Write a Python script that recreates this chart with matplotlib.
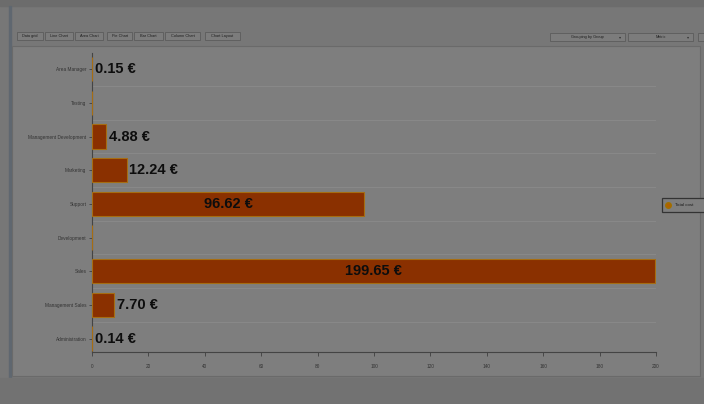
import matplotlib.pyplot as plt
from matplotlib.patches import Rectangle

categories = ['Administration', 'Management Sales', 'Sales', 'Development', 'Support',
              'Marketing', 'Management Development', 'Testing', 'Area Manager']
costs = [0.14, 7.70, 199.65, 0.0, 96.62, 12.24, 4.88, 0.0, 0.15]
cost_labels = ['0.14 €', '7.70 €', '199.65 €', '', '96.62 €', '12.24 €', '4.88 €', '', '0.15 €']
xticks = [0, 20, 40, 60, 80, 100, 120, 140, 160, 180, 200]
tabs = ['Data grid', 'Line Chart', 'Area Chart', 'Pie Chart', 'Bar Chart', 'Column Chart', 'Chart Layout']
dropdowns = ['Grouping by Group', 'Metric']

plt.rcParams['font.family'] = ['Liberation Sans', 'DejaVu Sans']

W, H = 704, 404
fig = plt.figure(figsize=(W / 100, H / 100), dpi=100)
fig.patch.set_facecolor('#777777')

def px(x, y, w, h):
    # pixel box (top-left origin) -> figure fraction
    return (x / W, 1 - (y + h) / H, w / W, h / H)

# window frame + panel
bg = fig.add_axes([0, 0, 1, 1])
bg.set_xlim(0, W)
bg.set_ylim(H, 0)
bg.axis('off')
bg.add_patch(Rectangle((0, 0), W, 6, color='#6c6c6c'))
bg.add_patch(Rectangle((9, 6), 2, 372, color='#5f6770'))
bg.add_patch(Rectangle((12, 46), 688, 330, facecolor='#7e7e7e', edgecolor='#6a6a6a', lw=0.8))
bg.add_patch(Rectangle((0, 378), W, 26, color='#727272'))

tab_x = [17, 45, 75, 107, 134, 165, 205]
tab_w = [26, 28, 28, 25, 29, 35, 35]
for t, x, w in zip(tabs, tab_x, tab_w):
    bg.add_patch(Rectangle((x, 32), w, 8, facecolor='#7c7c7c', edgecolor='#5c5c5c', lw=0.6))
    bg.text(x + w / 2, 36, t, fontsize=2.8, ha='center', va='center', color='#1e1e1e')

for t, x, w in zip(dropdowns, [550, 628], [75, 65]):
    bg.add_patch(Rectangle((x, 33), w, 8, facecolor='#7c7c7c', edgecolor='#5c5c5c', lw=0.6))
    bg.text(x + w / 2, 37, t, fontsize=2.8, ha='center', va='center', color='#1e1e1e')
    bg.text(x + w - 5, 37, '▾', fontsize=3, ha='center', va='center', color='#333333')
bg.add_patch(Rectangle((698, 33), 10, 8, facecolor='#7c7c7c', edgecolor='#5c5c5c', lw=0.6))

# legend box
bg.add_patch(Rectangle((662, 198), 44, 14, facecolor='#7e7e7e', edgecolor='#333333', lw=0.9))
bg.plot([668], [205], 'o', ms=4, color='#b06000', mec='#a07000')
bg.text(675, 205, 'Total cost', fontsize=3.2, va='center', color='#1a1a1a')

# bar chart
ax = fig.add_axes(px(92, 53, 564, 299))
ax.set_facecolor('none')
y = list(range(len(categories)))
ax.barh(y, costs, height=0.72, color='#8a3000', edgecolor='#a66d12', linewidth=0.8, zorder=3)
for i, (v, lab) in enumerate(zip(costs, cost_labels)):
    if not lab:
        continue
    if v > 50:
        ax.text(v / 2, i, lab, ha='center', va='center', fontsize=10.5,
                fontweight='bold', color='#0d0d0d', zorder=4)
    else:
        ax.text(v + 1, i, lab, ha='left', va='center', fontsize=10.5,
                fontweight='bold', color='#0d0d0d', zorder=4)
for i in range(len(categories) - 1):
    ax.axhline(i + 0.5, color='#8a8a8a', lw=0.6, zorder=1)
ax.set_xlim(0, 200)
ax.set_ylim(-0.4, 8.48)
ax.set_yticks(y)
ax.set_yticklabels(categories, fontsize=3.4, color='#151515')
ax.set_xticks(xticks)
ax.set_xticklabels([str(t) for t in xticks], fontsize=3.4, color='#151515')
ax.tick_params(axis='y', length=2, width=0.5, colors='#333333', pad=2)
ax.tick_params(axis='x', length=3, width=0.5, colors='#333333', pad=6)
for s in ['top', 'right']:
    ax.spines[s].set_visible(False)
for s in ['left', 'bottom']:
    ax.spines[s].set_color('#444444')
    ax.spines[s].set_linewidth(0.8)

fig.savefig('out.png', dpi=100, facecolor=fig.get_facecolor())
